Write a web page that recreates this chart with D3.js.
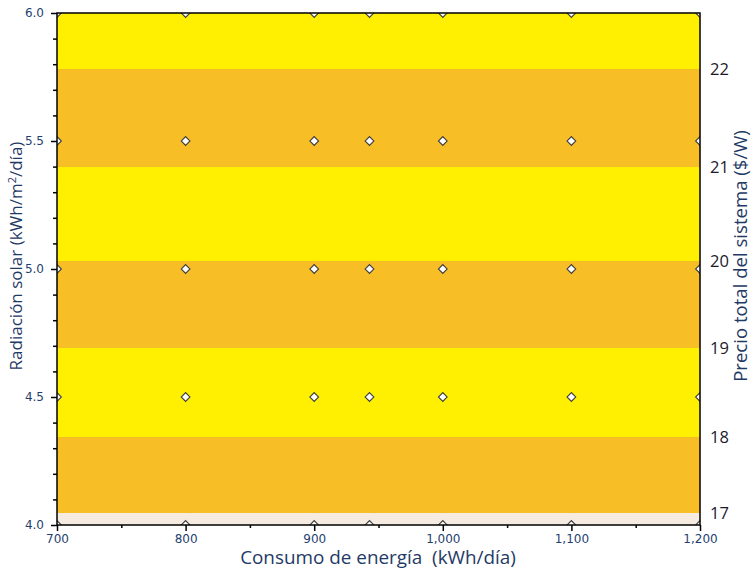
<!DOCTYPE html>
<html>
<head>
<meta charset="utf-8">
<script src="https://cdn.jsdelivr.net/npm/d3@7/dist/d3.min.js"></script>
<style>
  html, body { margin: 0; padding: 0; background: #fff; }
  svg { display: block; }
  text { white-space: pre; }
</style>
</head>
<body>
<svg id="chart" width="753" height="569"></svg>
<script>
// ---- data ----
const consumption = [700, 800, 900, 943, 1000, 1100, 1200];   // kWh/día sample points
const radiation = [4.0, 4.5, 5.0, 5.5, 6.0];                  // kWh/m²/día sample points
const xTicks = [700, 800, 900, 1000, 1100, 1200];
const yTicks = [4.0, 4.5, 5.0, 5.5, 6.0];
const priceLevels = [17, 18, 19, 20, 21, 22];                 // $/W contour levels
const levelRadiation = [4.047, 4.344, 4.691, 5.031, 5.398, 5.781]; // radiation where each level is reached

// ---- layout ----
const W = 753, H = 569;
const m = { left: 57, right: 53, top: 13, bottom: 44 };
const svg = d3.select("#chart");
const x = d3.scaleLinear().domain([700, 1200]).range([m.left, W - m.right]);
const y = d3.scaleLinear().domain([4.0, 6.0]).range([H - m.bottom, m.top]);

const cYellow = "#FEF000", cOrange = "#F8BE26", cBeige = "#F5EBE1";
const edges = [4.0, ...levelRadiation, 6.0];
const bandFill = [cBeige, cOrange, cYellow, cOrange, cYellow, cOrange, cYellow];
const bands = d3.range(edges.length - 1).map(i => ({ lo: edges[i], hi: edges[i + 1], fill: bandFill[i] }));

svg.append("defs").append("clipPath").attr("id", "plotclip")
  .append("rect").attr("x", x(700)).attr("y", y(6)).attr("width", x(1200) - x(700)).attr("height", y(4) - y(6));

const plot = svg.append("g").attr("clip-path", "url(#plotclip)");
plot.selectAll("rect.band").data(bands).join("rect")
  .attr("class", "band")
  .attr("x", x(700)).attr("width", x(1200) - x(700))
  .attr("y", d => y(d.hi)).attr("height", d => y(d.lo) - y(d.hi))
  .attr("fill", d => d.fill).attr("shape-rendering", "crispEdges");

// sample point markers
const pts = [];
radiation.forEach(r => consumption.forEach(c => pts.push({ c, r })));
const diamond = d3.symbol().type(d3.symbolSquare).size(38);
plot.selectAll("path.pt").data(pts).join("path")
  .attr("class", "pt")
  .attr("d", diamond)
  .attr("transform", d => `translate(${x(d.c)},${y(d.r)}) rotate(45)`)
  .attr("fill", "#ffffff").attr("stroke", "#404040").attr("stroke-width", 1.1);

// frame
svg.append("rect").attr("x", x(700)).attr("y", y(6)).attr("width", x(1200) - x(700)).attr("height", y(4) - y(6))
  .attr("fill", "none").attr("stroke", "#000").attr("stroke-width", 1.5);

const tickColor = "#1F3F6F";
// x axis
const fmtX = d3.format(",");
const xAxis = svg.append("g").attr("transform", `translate(0,${y(4)})`)
  .call(d3.axisBottom(x).tickValues(xTicks).tickFormat(fmtX).tickSize(6).tickPadding(3));
xAxis.select(".domain").remove();
xAxis.selectAll(".tick line").attr("stroke", "#000").attr("stroke-width", 1.5);
xAxis.selectAll(".tick text").attr("font-family", "DejaVu Sans").attr("font-size", 12).attr("fill", tickColor);
svg.append("g").attr("transform", `translate(0,${y(4)})`)
  .call(d3.axisBottom(x).tickValues(d3.range(750, 1200, 100)).tickFormat("").tickSize(3))
  .call(g => g.select(".domain").remove())
  .selectAll(".tick line").attr("stroke", "#000").attr("stroke-width", 1.5);

// left y axis
const yAxis = svg.append("g").attr("transform", `translate(${x(700)},0)`)
  .call(d3.axisLeft(y).tickValues(yTicks).tickFormat(d3.format(".1f")).tickSize(6).tickPadding(7));
yAxis.select(".domain").remove();
yAxis.selectAll(".tick line").attr("stroke", "#000").attr("stroke-width", 1.5);
yAxis.selectAll(".tick text").attr("font-family", "DejaVu Sans").attr("font-size", 12).attr("fill", tickColor);
const minorY = d3.range(4.1, 6.0, 0.1).filter(v => Math.abs(v * 2 - Math.round(v * 2)) > 1e-6);
svg.append("g").attr("transform", `translate(${x(700)},0)`)
  .call(d3.axisLeft(y).tickValues(minorY).tickFormat("").tickSize(4))
  .call(g => g.select(".domain").remove())
  .selectAll(".tick line").attr("stroke", "#000").attr("stroke-width", 1.5);

// right contour-level axis
const rAxis = svg.append("g").attr("transform", `translate(${x(1200)},0)`)
  .call(d3.axisRight(y).tickValues(levelRadiation).tickFormat((d, i) => priceLevels[i]).tickSize(0).tickPadding(10));
rAxis.select(".domain").remove();
rAxis.selectAll(".tick text").attr("font-family", "Open Sans").attr("font-size", 16.5).attr("fill", "#1a1a2a");

// titles (font size fitted to the reference text lengths)
function fit(sel, target) {
  const len = sel.node().getComputedTextLength();
  const fs = +sel.attr("font-size");
  sel.attr("font-size", fs * target / len);
}
const titleColor = "#1F3A66";
const xt = svg.append("text").attr("x", 378).attr("y", 564)
  .attr("text-anchor", "middle").attr("font-family", "Open Sans").attr("font-size", 16).attr("fill", titleColor)
  .text("Consumo de energía  (kWh/día)");
fit(xt, 276);

const lt = svg.append("text").attr("transform", `translate(22,256) rotate(-90)`)
  .attr("text-anchor", "middle").attr("font-family", "Open Sans").attr("font-size", 17).attr("fill", titleColor);
lt.append("tspan").text("Radiación solar (kWh/m");
lt.append("tspan").attr("font-size", 11).attr("dy", -6).text("2");
lt.append("tspan").attr("dy", 6).text("/día)");

const rt = svg.append("text").attr("transform", `translate(747,256) rotate(-90)`)
  .attr("text-anchor", "middle").attr("font-family", "Open Sans").attr("font-size", 16).attr("fill", titleColor)
  .text("Precio total del sistema ($/W)");
fit(rt, 252);
</script>
</body>
</html>
